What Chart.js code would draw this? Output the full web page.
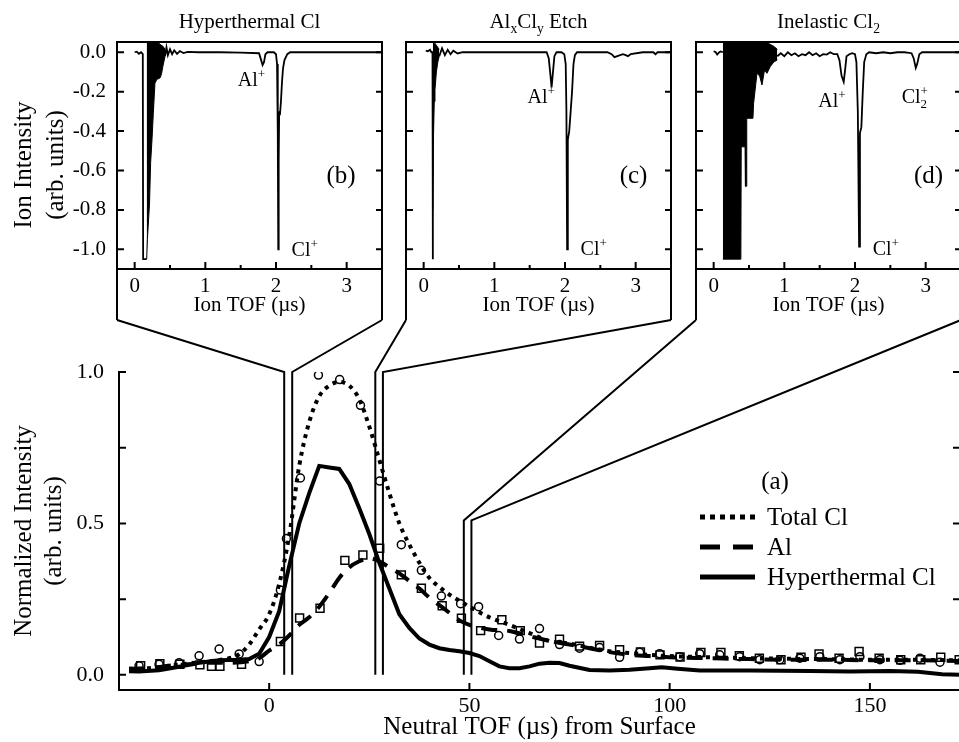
<!DOCTYPE html>
<html>
<head>
<meta charset="utf-8">
<title>Neutral TOF from Surface</title>
<script src="https://cdn.jsdelivr.net/npm/chart.js@4.4.1/dist/chart.umd.min.js"></script>
<style>
body{margin:0;background:#fff;}
#wrap{position:relative;width:959px;height:742px;overflow:hidden;background:#fff;}
canvas{position:absolute;top:0;}
</style>
</head>
<body>
<div id="wrap">
<canvas id="mainChart" width="1000" height="742" style="left:0px"></canvas>
<canvas id="insetB" width="400" height="320" style="left:0px"></canvas>
<canvas id="insetC" width="300" height="320" style="left:391px"></canvas>
<canvas id="insetD" width="300" height="320" style="left:681px"></canvas>
</div>
<script>
// (a) neutral TOF, Total Cl fit and data
const totalFitX = [-35, -30, -25, -20, -15, -10, -7.5, -5, -2.5, 0,
  2.5, 5, 7.5, 10, 12.5, 15, 17.5, 20, 22.5, 25,
  27.5, 30, 32.5, 35, 37.5, 40, 42.5, 45, 47.5, 50,
  55, 60, 65, 70, 75, 80, 85, 90, 95, 100,
  110, 120, 130, 140, 150, 160, 172.5];
const totalFitY = [0.02, 0.022, 0.03, 0.038, 0.045, 0.055, 0.068, 0.1, 0.15, 0.2,
  0.3, 0.46, 0.69, 0.835, 0.92, 0.955, 0.967, 0.955, 0.91, 0.82,
  0.71, 0.6, 0.5, 0.43, 0.37, 0.32, 0.29, 0.265, 0.245, 0.225,
  0.19, 0.165, 0.138, 0.112, 0.103, 0.09, 0.078, 0.072, 0.066, 0.062,
  0.058, 0.055, 0.053, 0.052, 0.05, 0.05, 0.048];
const totalPtsX = [-32.5, -27.5, -22.5, -17.5, -12.5, -7.5, -2.5, 2.8, 4.3, 7.8,
  12.3, 17.6, 22.8, 27.6, 33, 38, 43, 47.8, 52.3, 57.3,
  62.5, 67.5, 72.5, 77.5, 82.5, 87.5, 92.5, 97.5, 102.5, 107.5,
  112.5, 117.5, 122.5, 127.5, 132.5, 137.5, 142.5, 147.5, 152.5, 157.5,
  162.5, 167.5];
const totalPtsY = [0.03, 0.035, 0.04, 0.063, 0.085, 0.069, 0.044, 0.28, 0.45, 0.65,
  0.99, 0.975, 0.89, 0.64, 0.43, 0.345, 0.26, 0.235, 0.225, 0.13,
  0.118, 0.153, 0.1, 0.088, 0.09, 0.058, 0.075, 0.07, 0.06, 0.07,
  0.066, 0.06, 0.05, 0.05, 0.055, 0.06, 0.05, 0.06, 0.05, 0.048,
  0.055, 0.042];

// Al fit and data
const alFitX = [-35, -30, -25, -20, -15, -10, -5, -2.5, 0, 2.5,
  5, 7.5, 10, 12.5, 15, 17.5, 20, 22.5, 25, 27.5,
  30, 32.5, 35, 37.5, 40, 42.5, 45, 47.5, 50, 55,
  60, 65, 70, 75, 80, 85, 90, 95, 100, 110,
  120, 130, 140, 150, 160, 172.5];
const alFitY = [0.02, 0.022, 0.03, 0.035, 0.04, 0.04, 0.045, 0.055, 0.08, 0.1,
  0.13, 0.165, 0.19, 0.225, 0.27, 0.32, 0.355, 0.375, 0.385, 0.375,
  0.355, 0.335, 0.31, 0.285, 0.255, 0.23, 0.205, 0.18, 0.165, 0.15,
  0.145, 0.128, 0.112, 0.1, 0.088, 0.075, 0.066, 0.062, 0.058, 0.055,
  0.052, 0.05, 0.05, 0.048, 0.048, 0.046];
const alPtsX = [-32.1, -27.3, -22.3, -17.3, -14.4, -12.3, -6.9, 2.8, 7.6, 12.7,
  18.9, 23.4, 27.6, 33, 38, 43.2, 48, 52.8, 58.1, 62.7,
  67.5, 72.5, 77.5, 82.5, 87.5, 92.7, 97.6, 102.6, 107.8, 112.8,
  117.4, 122.4, 127.8, 132.8, 137.3, 142.3, 147.3, 152.3, 157.7, 162.7,
  167.7, 172.3];
const alPtsY = [0.03, 0.037, 0.035, 0.033, 0.028, 0.028, 0.035, 0.11, 0.188, 0.22,
  0.378, 0.396, 0.418, 0.33, 0.286, 0.228, 0.187, 0.146, 0.182, 0.146,
  0.105, 0.118, 0.095, 0.097, 0.083, 0.076, 0.066, 0.059, 0.074, 0.074,
  0.063, 0.055, 0.05, 0.058, 0.069, 0.055, 0.077, 0.055, 0.05, 0.05,
  0.058, 0.05];

// Hyperthermal Cl
const hyperX = [-35, -32.5, -27.5, -22.5, -17.5, -12.5, -7.5, -5, -2.5, 0,
  2.5, 4, 5, 7.5, 10, 12.5, 15, 17.5, 20, 22.5,
  25, 27.5, 30, 32.5, 35, 37.5, 40, 42.5, 45, 47.5,
  50, 52.5, 55, 57.5, 60, 62.5, 65, 67.5, 70, 72.5,
  75, 80, 85, 90, 95, 98, 102, 107.5, 120, 135,
  145, 155, 162, 168, 172.5];
const hyperY = [0.012, 0.011, 0.015, 0.027, 0.04, 0.048, 0.05, 0.052, 0.07, 0.125,
  0.21, 0.3, 0.36, 0.5, 0.6, 0.69, 0.685, 0.68, 0.63, 0.55,
  0.465, 0.37, 0.285, 0.2, 0.155, 0.12, 0.1, 0.088, 0.082, 0.078,
  0.072, 0.062, 0.045, 0.028, 0.022, 0.022, 0.028, 0.037, 0.04, 0.039,
  0.03, 0.016, 0.014, 0.017, 0.022, 0.025, 0.02, 0.014, 0.014, 0.013,
  0.011, 0.013, 0.01, 0.002, 0.0];

const mainXTicks = [0, 50, 100, 150];
const mainYTicks = [0, 0.25, 0.5, 0.75, 1.0];

// neutral TOF windows that the insets come from
const windowX = [[3.75, 5.75], [26.5, 28.4], [48.6, 50.5]];
const windowTop = [1.0, 1.0, 0.51];

// insets: ion TOF spectra
const insetXTicks = [0, 0.5, 1, 1.5, 2, 2.5, 3];
const insetYTicks = [0, -0.2, -0.4, -0.6, -0.8, -1.0];

// (b) Hyperthermal Cl
const bTraceX = [0.0, 0.03, 0.06, 0.09, 0.115, 0.12, 0.17, 0.3,
  0.43, 0.45, 0.47, 0.5, 0.53, 0.56, 0.6, 0.64, 0.69, 0.75,
  0.9, 1.2, 1.5, 1.76, 1.79, 1.81, 1.83, 1.85, 1.88, 1.97,
  2.0, 2.015, 2.025, 2.032, 2.038, 2.045, 2.055, 2.07, 2.085, 2.1,
  2.12, 2.16, 2.2, 2.6, 3.0, 3.5];
const bTraceY = [0.0, 0.003, -0.008, 0.0, -0.01, -1.05, -1.05, null,
  -0.02, 0.025, -0.015, 0.015, -0.01, 0.01, -0.008, 0.006, -0.004, 0.002,
  0.0, 0.0, -0.002, -0.005, -0.04, -0.065, -0.05, -0.01, 0.0, 0.0,
  -0.01, -0.06, -0.4, -1.0, -0.55, -0.3, -0.32, -0.25, -0.15, -0.08,
  -0.04, -0.01, 0.0, 0.0, 0.0, 0.0];
const bEnvX = [0.17, 0.18, 0.21, 0.226, 0.245, 0.264, 0.287, 0.31, 0.33, 0.36, 0.38, 0.40, 0.43];
const bEnvTop = [0.05, 0.05, 0.05, 0.05, 0.05, 0.05, 0.05, 0.05, 0.05, 0.04, 0.035, 0.03, 0.015];
const bEnvBot = [-1.05, -0.95, -0.77, -0.56, -0.445, -0.31, -0.157, -0.14, -0.135, -0.13, -0.11, -0.07, -0.02];

// (c) AlxCly etch
const cTraceX = [0.03, 0.06, 0.09, 0.11, 0.125, 0.13, 0.18,
  0.22, 0.26, 0.3, 0.34, 0.38, 0.42, 0.48, 0.55, 0.8, 1.2,
  1.6, 1.74, 1.77, 1.795, 1.81, 1.825, 1.85, 1.88, 1.95, 1.99,
  2.01, 2.02, 2.03, 2.04, 2.06, 2.08, 2.1, 2.12, 2.14, 2.17,
  2.2, 2.6, 2.66, 2.7, 2.74, 2.78, 2.82, 2.86, 2.89, 2.93,
  3.1, 3.25, 3.28, 3.31, 3.5];
const cTraceY = [0.008, 0.005, 0.012, 0.0, 0.0, -1.05, null,
  -0.02, 0.02, -0.015, 0.012, -0.01, 0.008, -0.006, 0.0, 0.0, 0.0,
  0.0, 0.0, -0.03, -0.12, -0.178, -0.12, -0.02, 0.0, 0.0, -0.01,
  -0.06, -0.3, -1.0, -0.445, -0.4, -0.3, -0.2, -0.06, -0.015, 0.0,
  0.0, 0.0, -0.01, -0.025, -0.02, -0.015, -0.01, -0.015, -0.02, -0.01,
  0.0, 0.0, -0.01, 0.0, 0.0];
const cEnvX = [0.13, 0.14, 0.15, 0.16, 0.18, 0.2, 0.22];
const cEnvTop = [0.05, 0.05, 0.05, 0.045, 0.035, 0.025, 0.015];
const cEnvBot = [-0.8, -0.41, -0.25, -0.19, -0.1, -0.05, -0.02];

// (d) Inelastic Cl2
const dTraceX = [0.0, 0.03, 0.05, 0.08, 0.1, 0.13, 0.5,
  0.9, 0.95, 1.0, 1.05, 1.1, 1.15, 1.2, 1.25, 1.3, 1.35,
  1.4, 1.45, 1.5, 1.55, 1.6, 1.65, 1.7, 1.75, 1.78, 1.81,
  1.84, 1.86, 1.88, 1.92, 1.96, 2.0, 2.02, 2.04, 2.058, 2.07,
  2.09, 2.11, 2.13, 2.16, 2.2, 2.3, 2.4, 2.5, 2.6, 2.7,
  2.8, 2.83, 2.86, 2.88, 2.91, 2.95, 3.05, 3.2, 3.35, 3.5];
const dTraceY = [0.005, 0.0, -0.012, 0.0, 0.004, 0.0, null,
  -0.02, -0.005, -0.02, 0.0, -0.015, -0.005, -0.02, -0.01, -0.015, 0.0,
  -0.015, -0.005, -0.02, -0.01, -0.012, 0.0, -0.01, -0.01, -0.04, -0.12,
  -0.15, -0.09, -0.02, -0.01, -0.005, -0.01, -0.05, -0.3, -0.986, -0.41,
  -0.38, -0.2, -0.05, -0.01, 0.0, -0.005, 0.0, -0.005, 0.0, 0.0,
  -0.005, -0.03, -0.08, -0.06, -0.01, 0.0, 0.0, 0.0, 0.0, 0.0];
const dEnvX = [0.13, 0.385, 0.39, 0.445, 0.45, 0.462, 0.468, 0.5, 0.556, 0.565, 0.613, 0.65, 0.684, 0.72, 0.754, 0.8, 0.85, 0.9];
const dEnvTop = [0.05, 0.05, 0.05, 0.05, 0.05, 0.05, 0.05, 0.05, 0.05, 0.05, 0.05, 0.05, 0.05, 0.05, 0.05, 0.04, 0.03, 0.015];
const dEnvBot = [-1.05, -1.05, -0.48, -0.48, -0.68, -0.68, -0.335, -0.335, -0.335, -0.26, -0.107, -0.12, -0.166, -0.09, -0.107, -0.073, -0.05, -0.039];


const FONT = "'Liberation Serif', 'Times New Roman', serif";
Chart.defaults.font.family = FONT;
Chart.defaults.color = '#000';

function pts(xs, ys) {
  return xs.map((v, i) => ({x: v, y: ys[i]}));
}

// text with sub (1) / superscript (2); third flag keeps the pen in place
function richText(ctx, parts, x, y, size, align) {
  let w = 0;
  const pieces = parts.map(([t, mode, hold]) => {
    const s = mode ? size * 0.65 : size;
    ctx.font = s + 'px ' + FONT;
    const pw = ctx.measureText(t).width;
    if (!hold) w += pw;
    return {t, mode, s, pw, hold};
  });
  let cx = align === 'center' ? x - w / 2 : x;
  ctx.textAlign = 'left';
  ctx.textBaseline = 'alphabetic';
  pieces.forEach(p => {
    ctx.font = p.s + 'px ' + FONT;
    const dy = p.mode === 1 ? size * 0.25 : (p.mode === 2 ? -size * 0.38 : 0);
    ctx.fillText(p.t, cx, y + dy);
    if (!p.hold) cx += p.pw;
  });
}

function insetDecor(cfg) {
  return {
    id: 'insetDecor',
    afterDraw(chart) {
      const {ctx, chartArea: a, scales: {x, y}} = chart;
      const H = chart.height;
      ctx.save();
      ctx.strokeStyle = '#000';
      ctx.fillStyle = '#000';
      ctx.lineWidth = 2;
      ctx.strokeRect(a.left, a.top, a.right - a.left, a.bottom - a.top);
      ctx.beginPath();
      ctx.moveTo(a.left, a.bottom); ctx.lineTo(a.left, H);
      ctx.moveTo(a.right, a.bottom); ctx.lineTo(a.right, H);
      insetXTicks.forEach(v => {
        const p = x.getPixelForValue(v);
        const len = Number.isInteger(v) ? 7 : 4;
        ctx.moveTo(p, a.bottom); ctx.lineTo(p, a.bottom - len);
      });
      insetYTicks.forEach(v => {
        const p = y.getPixelForValue(v);
        ctx.moveTo(a.left, p); ctx.lineTo(a.left + 7, p);
        ctx.moveTo(a.right, p); ctx.lineTo(a.right - 6, p);
      });
      ctx.stroke();

      richText(ctx, cfg.title, (a.left + a.right) / 2, 28, 21, 'center');
      cfg.notes.forEach(n => {
        richText(ctx, n.parts, x.getPixelForValue(n.x), y.getPixelForValue(n.y), 20, 'left');
      });
      ctx.font = '25px ' + FONT;
      ctx.textAlign = 'center';
      ctx.textBaseline = 'alphabetic';
      ctx.fillText(cfg.panel, x.getPixelForValue(cfg.panelAt[0]), y.getPixelForValue(cfg.panelAt[1]));

      if (cfg.yTitles) {
        ctx.font = '25px ' + FONT;
        ctx.textBaseline = 'middle';
        cfg.yTitles.forEach((t, i) => {
          ctx.save();
          ctx.translate(24 + i * 32, 165);
          ctx.rotate(-Math.PI / 2);
          ctx.fillText(t, 0, 0);
          ctx.restore();
        });
      }
      ctx.restore();
    }
  };
}

function makeInset(id, cfg) {
  return new Chart(document.getElementById(id), {
    type: 'line',
    data: {
      datasets: [
        {data: pts(cfg.envX, cfg.envTop), borderColor: '#000', borderWidth: 1, pointRadius: 0, fill: false},
        {data: pts(cfg.envX, cfg.envBot), borderColor: '#000', borderWidth: 1, pointRadius: 0,
          fill: '-1', backgroundColor: '#000'},
        {data: pts(cfg.traceX, cfg.traceY), borderColor: '#000', borderWidth: 1.8, pointRadius: 0,
          fill: false, spanGaps: false}
      ]
    },
    options: {
      responsive: false,
      animation: false,
      events: [],
      layout: {padding: {left: 0, right: cfg.padRight, top: 42, bottom: 0}},
      plugins: {legend: {display: false}, tooltip: {enabled: false}},
      scales: {
        x: {
          type: 'linear', min: -0.25, max: 3.5,
          afterFit: s => { s.height = 51; },
          afterBuildTicks: s => { s.ticks = insetXTicks.map(v => ({value: v})); },
          grid: {display: false},
          border: {display: false},
          ticks: {padding: -3, font: {size: 21}, maxRotation: 0, autoSkip: false,
            callback: v => Number.isInteger(v) ? String(v) : ''},
          title: {display: true, text: 'Ion TOF (µs)', font: {size: 21}, padding: {top: 0, bottom: 2}}
        },
        y: {
          min: -1.1, max: 0.052,
          afterFit: s => { s.width = cfg.yWidth; },
          afterBuildTicks: s => { s.ticks = insetYTicks.map(v => ({value: v})); },
          grid: {display: false},
          border: {display: false},
          ticks: {display: !!cfg.yTitles, padding: 3, font: {size: 21}, autoSkip: false,
            callback: v => v.toFixed(1)}
        }
      }
    },
    plugins: [insetDecor(cfg)]
  });
}

const insetB = makeInset('insetB', {
  yWidth: 117, padRight: 18,
  traceX: bTraceX, traceY: bTraceY, envX: bEnvX, envTop: bEnvTop, envBot: bEnvBot,
  title: [['Hyperthermal Cl', 0]],
  notes: [
    {parts: [['Al', 0], ['+', 2]], x: 1.46, y: -0.171},
    {parts: [['Cl', 0], ['+', 2]], x: 2.22, y: -1.034}
  ],
  panel: '(b)', panelAt: [2.92, -0.663],
  yTitles: ['Ion Intensity', '(arb. units)']
});
const insetC = makeInset('insetC', {
  yWidth: 15, padRight: 20,
  traceX: cTraceX, traceY: cTraceY, envX: cEnvX, envTop: cEnvTop, envBot: cEnvBot,
  title: [['Al', 0], ['x', 1], ['Cl', 0], ['y', 1], [' Etch', 0]],
  notes: [
    {parts: [['Al', 0], ['+', 2]], x: 1.47, y: -0.257},
    {parts: [['Cl', 0], ['+', 2]], x: 2.22, y: -1.029}
  ],
  panel: '(c)', panelAt: [2.97, -0.663]
});
const insetD = makeInset('insetD', {
  yWidth: 15, padRight: 20,
  traceX: dTraceX, traceY: dTraceY, envX: dEnvX, envTop: dEnvTop, envBot: dEnvBot,
  title: [['Inelastic Cl', 0], ['2', 1]],
  notes: [
    {parts: [['Al', 0], ['+', 2]], x: 1.48, y: -0.278},
    {parts: [['Cl', 0], ['+', 2]], x: 2.25, y: -1.029},
    {parts: [['Cl', 0], ['2', 1, true], ['+', 2]], x: 2.66, y: -0.257}
  ],
  panel: '(d)', panelAt: [3.04, -0.663]
});

// inset boxes in page pixels, for the connecting lines
const insetLefts = [0, 391, 681];
const insetBoxes = [insetB, insetC, insetD].map((c, i) => ({
  left: insetLefts[i] + c.chartArea.left,
  right: insetLefts[i] + c.chartArea.right,
  bottom: c.height
}));

const mainDecor = {
  id: 'mainDecor',
  beforeDatasetsDraw(chart) {
    const {ctx, scales: {x, y}} = chart;
    ctx.save();
    ctx.strokeStyle = '#000';
    ctx.lineWidth = 2;
    ctx.beginPath();
    insetBoxes.forEach((b, i) => {
      const x0 = x.getPixelForValue(windowX[i][0]);
      const x1 = x.getPixelForValue(windowX[i][1]);
      const yt = y.getPixelForValue(windowTop[i]);
      const yb = y.getPixelForValue(0);
      ctx.moveTo(b.left, b.bottom); ctx.lineTo(x0, yt); ctx.lineTo(x0, yb);
      ctx.moveTo(b.right, b.bottom); ctx.lineTo(x1, yt); ctx.lineTo(x1, yb);
    });
    ctx.stroke();
    ctx.restore();
  },
  afterDraw(chart) {
    const {ctx, chartArea: a, scales: {x, y}} = chart;
    ctx.save();
    ctx.strokeStyle = '#000';
    ctx.fillStyle = '#000';
    ctx.lineWidth = 2;
    ctx.beginPath();
    mainXTicks.forEach(v => {
      const p = x.getPixelForValue(v);
      ctx.moveTo(p, a.bottom); ctx.lineTo(p, a.bottom - 7);
    });
    mainYTicks.forEach(v => {
      const p = y.getPixelForValue(v);
      ctx.moveTo(a.left, p); ctx.lineTo(a.left + 7, p);
      ctx.moveTo(a.right, p); ctx.lineTo(a.right - 7, p);
    });
    ctx.stroke();

    // legend
    ctx.font = '25px ' + FONT;
    ctx.textAlign = 'center';
    ctx.textBaseline = 'alphabetic';
    ctx.fillText('(a)', 775, 489);
    const rows = [[0, 517, [5, 5]], [2, 547, [20, 13]], [4, 577, []]];
    rows.forEach(([i, ry, dash]) => {
      const ds = chart.data.datasets[i];
      ctx.beginPath();
      ctx.setLineDash(dash);
      ctx.lineWidth = ds.borderWidth + 1;
      ctx.moveTo(700, ry); ctx.lineTo(755, ry);
      ctx.stroke();
      ctx.setLineDash([]);
      ctx.textAlign = 'left';
      ctx.fillText(ds.label, 767, ry + 8);
    });
    ctx.restore();
  }
};

new Chart(document.getElementById('mainChart'), {
  type: 'line',
  data: {
    datasets: [
      {label: 'Total Cl', data: pts(totalFitX, totalFitY), borderColor: '#000', borderWidth: 4,
        borderDash: [4, 5], pointRadius: 0, fill: false, cubicInterpolationMode: 'monotone'},
      {label: 'Total Cl data', data: pts(totalPtsX, totalPtsY), showLine: false, pointStyle: 'circle',
        pointRadius: 4, pointBorderWidth: 1.5, pointBorderColor: '#000', pointBackgroundColor: 'rgba(0,0,0,0)'},
      {label: 'Al', data: pts(alFitX, alFitY), borderColor: '#000', borderWidth: 4,
        borderDash: [16, 10], pointRadius: 0, fill: false, cubicInterpolationMode: 'monotone'},
      {label: 'Al data', data: pts(alPtsX, alPtsY), showLine: false, pointStyle: 'rect',
        pointRadius: 5.6, pointBorderWidth: 1.5, pointBorderColor: '#000', pointBackgroundColor: 'rgba(0,0,0,0)'},
      {label: 'Hyperthermal Cl', data: pts(hyperX, hyperY), borderColor: '#000', borderWidth: 4,
        pointRadius: 0, fill: false, tension: 0}
    ]
  },
  options: {
    responsive: false,
    animation: false,
    events: [],
    layout: {padding: {left: 0, right: 40, top: 372, bottom: 0}},
    plugins: {legend: {display: false}, tooltip: {enabled: false}},
    scales: {
      x: {
        type: 'linear', min: -37.5, max: 172.5,
        afterFit: s => { s.height = 52; },
        afterBuildTicks: s => { s.ticks = mainXTicks.map(v => ({value: v})); },
        grid: {display: false},
        border: {display: true, width: 2, color: '#000'},
        ticks: {padding: -5, font: {size: 22}, maxRotation: 0, autoSkip: false, callback: v => String(v)},
        title: {display: true, text: 'Neutral TOF (µs) from Surface', font: {size: 25}, padding: {top: 0, bottom: 0}}
      },
      y: {
        min: -0.05, max: 1.0,
        afterFit: s => { s.width = 119; },
        afterBuildTicks: s => { s.ticks = mainYTicks.map(v => ({value: v})); },
        grid: {display: false},
        border: {display: true, width: 2, color: '#000'},
        ticks: {padding: 7, font: {size: 22}, autoSkip: false,
          callback: v => Math.abs(v * 2 - Math.round(v * 2)) < 1e-9 ? v.toFixed(1) : ''},
        title: {display: true, text: ['Normalized Intensity', '(arb. units)'],
          font: {size: 25, lineHeight: 1.2}, padding: {top: 9, bottom: 0}}
      }
    }
  },
  plugins: [mainDecor]
});
</script>
</body>
</html>
